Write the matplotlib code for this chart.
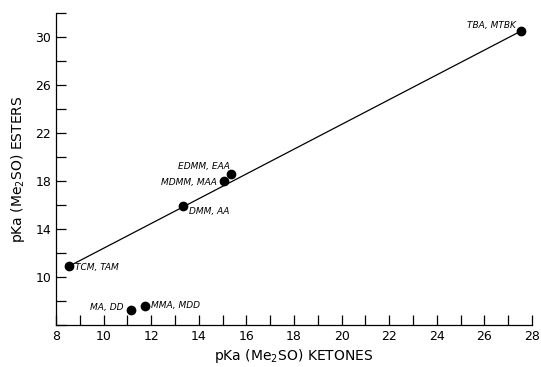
import matplotlib
matplotlib.use("Agg")
import matplotlib.pyplot as plt
from matplotlib.ticker import MultipleLocator

# Data
labels = ["TCM, TAM", "MA, DD", "MMA, MDD", "DMM, AA", "MDMM, MAA", "EDMM, EAA", "TBA, MTBK"]
ketones = [8.55, 11.13, 11.76, 13.34, 15.06, 15.35, 27.54]
esters = [10.9, 7.25, 7.6, 15.9, 18.0, 18.6, 30.5]
line_x = [8.55, 27.54]
line_y = [10.9, 30.5]

plt.rcParams['font.family'] = ['DejaVu Sans']
fig = plt.figure(figsize=(5.41, 3.67), dpi=100)
ax = fig.add_axes([0.1035, 0.1144, 0.8800, 0.8502])

ax.plot(line_x, line_y, color='black', lw=0.9)
ax.scatter(ketones, esters, s=36, color='black', zorder=3)

# annotation offsets (points)
offs = {
    "TCM, TAM": (4, -1, 'left'),
    "MA, DD": (-5, 2, 'right'),
    "MMA, MDD": (4, 0, 'left'),
    "DMM, AA": (4, -4, 'left'),
    "MDMM, MAA": (-5, -1, 'right'),
    "EDMM, EAA": (-1, 5, 'right'),
    "TBA, MTBK": (-4, 4, 'right'),
}
for lab, xv, yv in zip(labels, ketones, esters):
    dx, dy, ha = offs[lab]
    ax.annotate(lab, (xv, yv), xytext=(dx, dy), textcoords='offset points',
                ha=ha, va='center', fontsize=6.5, style='italic')

ax.set_xlim(8, 28)
ax.set_ylim(6, 32)
ax.xaxis.set_major_locator(MultipleLocator(2))
ax.xaxis.set_minor_locator(MultipleLocator(1))
ax.yaxis.set_minor_locator(MultipleLocator(2))
ax.set_yticks([10, 14, 18, 22, 26, 30])
ax.tick_params(which='both', direction='in', labelsize=9, width=0.9)
ax.tick_params(which='major', length=7)
ax.tick_params(which='minor', length=7)
for s in ['top', 'right']:
    ax.spines[s].set_visible(False)
for s in ['left', 'bottom']:
    ax.spines[s].set_linewidth(0.9)

ax.set_xlabel("pKa (Me$_2$SO) KETONES", fontsize=10, labelpad=3)
ax.set_ylabel("pKa (Me$_2$SO) ESTERS", fontsize=10, labelpad=6)

fig.savefig("out.png", dpi=100)
